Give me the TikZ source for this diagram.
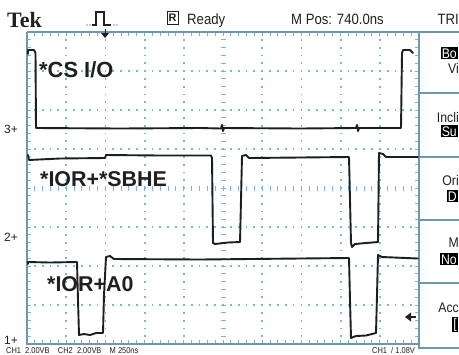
\documentclass[tikz,border=0pt]{standalone}
\usepackage{fontspec}
\setmainfont{Liberation Sans}
\newfontfamily\tekfont{Liberation Serif}
\newfontfamily\narrowfont{Liberation Sans}[FakeStretch=0.88]
\definecolor{trc}{HTML}{1A1F22}
\definecolor{gridc}{HTML}{7DB5D6}
\definecolor{framec}{HTML}{6E97AB}
\definecolor{txt}{HTML}{202020}
\begin{document}
\begin{tikzpicture}[x=1bp,y=-1bp,
  trace/.style={line width=1.9bp, draw=trc, line join=round, line cap=round},
  gtick/.style={line width=1bp, draw=gridc},
  frame/.style={line width=1.3bp, draw=framec},
  lbl/.style={font=\bfseries\fontsize{21.5}{22}\selectfont, text=txt, inner sep=0pt, anchor=base west},
  top/.style={font=\narrowfont\fontsize{15}{16}\selectfont, text=txt, inner sep=0pt, anchor=base west},
  chl/.style={font=\fontsize{12}{12}\selectfont, text=txt, inner sep=0pt, anchor=base west},
  pan/.style={font=\narrowfont\fontsize{14}{15}\selectfont, text=txt, inner sep=0pt, anchor=base east},
  panb/.style={font=\narrowfont\fontsize{14}{15}\selectfont, text=white, fill=black, inner sep=1pt, anchor=base east},
  stat/.style={font=\narrowfont\fontsize{8.5}{9}\selectfont, text=txt, inner sep=0pt, anchor=base west}]
\useasboundingbox (0,0) rectangle (459,354);
\fill[white] (0,0) rectangle (459,354);
% grid dots
\foreach \i in {1,2,3,4,6,7,8,9}{
  \pgfmathsetmacro\xx{27+39.2*\i}
  \foreach \k in {1,...,39}{
    \pgfmathsetmacro\yy{32+7.8*\k}
    \fill[gridc] (\xx-0.9,\yy-0.9) rectangle (\xx+0.9,\yy+0.9);
  }
}
\foreach \j in {1,2,3,5,6,7}{
  \pgfmathsetmacro\yy{32+39*\j}
  \foreach \k in {1,...,49}{
    \pgfmathsetmacro\xx{27+7.84*\k}
    \fill[gridc] (\xx-0.9,\yy-0.9) rectangle (\xx+0.9,\yy+0.9);
  }
}
% center lines ticks and border ticks
\foreach \k in {1,...,49}{
  \pgfmathsetmacro\xx{27+7.84*\k}
  \draw[gtick] (\xx,185.5) -- (\xx,190.5);
  \draw[gtick] (\xx,32) -- (\xx,36);
  \draw[gtick] (\xx,344) -- (\xx,340);
}
\foreach \k in {1,...,39}{
  \pgfmathsetmacro\yy{32+7.8*\k}
  \draw[gtick] (220.5,\yy) -- (225.5,\yy);
  \draw[gtick] (27,\yy) -- (31,\yy);
  \draw[gtick] (419,\yy) -- (415,\yy);
}
% frame and right panel
\draw[frame] (27,32) -- (27,344) -- (419,344);
\draw[frame] (27,32) -- (459,32);
\draw[frame] (419,32) -- (419,348) -- (459,348);
\foreach \yy in {93,157,220,283}{ \draw[frame] (419,\yy) -- (459,\yy); }
% header
\node[font=\tekfont\bfseries\fontsize{22}{22}\selectfont, text=txt, inner sep=0pt, anchor=base west] (tek) at (7,27) {Tek};
\fill[txt] (87,25) circle (0.7) (90,25) circle (0.7) (114,25) circle (0.7) (117,25) circle (0.7);
\draw[line width=1.1bp, draw=txt] (92,25) -- (96,25) -- (96,12) -- (104,12) -- (104,25) -- (111,25);
\fill[txt] (101,33) -- (109,33) -- (105,38) -- cycle;
\draw[line width=1bp, draw=txt] (105,29) -- (105,34);
\node[draw=txt, line width=1bp, font=\fontsize{11}{11}\selectfont\bfseries, text=txt, inner sep=1pt, minimum width=11bp, minimum height=13bp] (rbox) at (172.5,18) {R};
\node[top] (ready) at (187,24) {Ready};
\node[top] (mpos) at (291,24) {M Pos: 740.0ns};
\node[top, anchor=base east] (trig) at (459,24) {TRI};
% right panel texts
\node[panb] (p1a) at (458,58) {Bo};
\node[pan] (p1b) at (459,73) {Vi};
\node[pan] (p2a) at (459,122) {Incli};
\node[panb] (p2b) at (458,136) {Su};
\node[pan] (p3a) at (459,185) {Ori};
\node[panb] (p3b) at (458,201) {D};
\node[pan] (p4a) at (459,247) {M};
\node[panb] (p4b) at (458,264) {No};
\node[pan] (p5a) at (459,312) {Acc};
\node[panb] (p5b) at (458,328) {[};
% trigger level arrow
\fill[txt] (405,317) -- (411,312.5) -- (411,321.5) -- cycle;
\draw[line width=1.4bp, draw=txt] (410,317) -- (416,317);
% channel markers
\node[chl] (c3) at (4,133.5) {3+};
\node[chl] (c2) at (4,241.5) {2+};
\node[chl] (c1) at (4,344) {1+};
% traces
\draw[trace] (28,54) -- (28,50) -- (34,50) -- (35.5,53) -- (36,128) -- (120,128.5) -- (200,128) -- (221,128.5) -- (222,125) -- (223,131) -- (224,128) -- (300,128.5) -- (356,128) -- (357,125) -- (358,131) -- (359,128) -- (401,128) -- (402,53) -- (403,50) -- (410,50) -- (413,53);
\draw[trace] (28,155) -- (29,160) -- (60,158.5) -- (105,158) -- (106,155) -- (160,155.5) -- (211,155.5) -- (212,158) -- (213,243) -- (215,244) -- (228,242.5) -- (240,242) -- (241,200) -- (242,156) -- (246,155) -- (249,158) -- (300,157.5) -- (349,157) -- (350,200) -- (351,243) -- (352,247) -- (355,244) -- (366,243) -- (378,242) -- (379,153) -- (383,154) -- (386,157) -- (418,157);
\draw[trace] (28,264) -- (28,262) -- (50,262.5) -- (77,262) -- (78,300) -- (79,335) -- (84,334) -- (90,335) -- (96,333) -- (103,333) -- (104,295) -- (106,257) -- (110,256) -- (114,259) -- (200,259.5) -- (300,258.5) -- (349,258) -- (350,300) -- (351,338) -- (356,336) -- (366,335.5) -- (376,333) -- (377,295) -- (378,255) -- (382,257) -- (418,258.5);
% labels
\node[lbl, font=\bfseries\fontsize{22}{22}\selectfont] (l3) at (39,77) {*CS I/O};
\node[lbl] (l2) at (40,186) {*IOR+*SBHE};
\node[lbl] (l1) at (47,291) {*IOR+A0};
% bottom status line
\node[stat] (st1) at (6,353.5) {CH1\ \ 2.00VB\ \ \ \ CH2\ \ 2.00VB\ \ \ \ M 250ns};
\node[stat] (st2) at (372,353.5) {CH1\ \ / 1.08V};
\end{tikzpicture}
\end{document}
